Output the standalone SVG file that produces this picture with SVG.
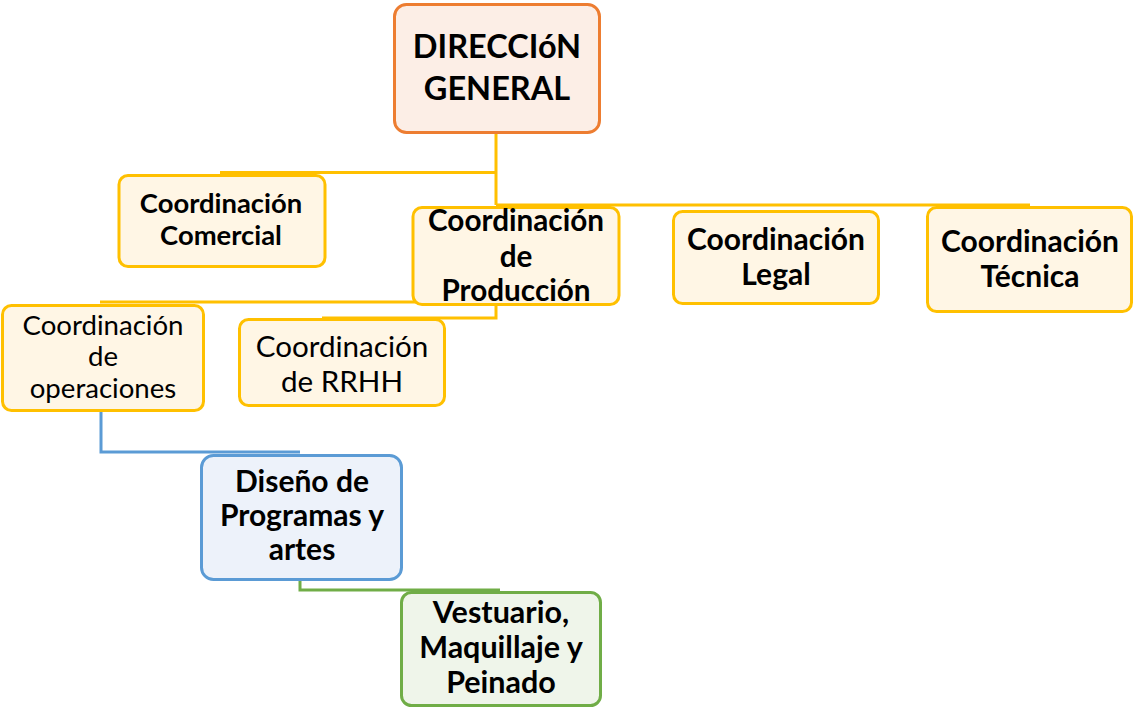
<svg xmlns="http://www.w3.org/2000/svg" width="1133" height="708" viewBox="0 0 1133 708">
<style>
.t{font-family:Lato,"Open Sans","Liberation Sans",sans-serif;fill:#000;text-anchor:middle}
.b{font-weight:bold}
.y{fill:#FFF6E5;stroke:#FFC000;stroke-width:3}
.c{fill:none;stroke-width:3}
</style>
<rect width="1133" height="708" fill="#fff"/>
<g id="connectors">
<path class="c" stroke="#FFC000" d="M496,133V205M220,172.5H496M496,205H1030M100,302H496V318H322"/>
<path class="c" stroke="#5B9BD5" d="M101,411V452H300"/>
<path class="c" stroke="#70AD47" d="M300,580V590H500"/>
</g>
<g id="direccion">
<rect x="394.5" y="4.5" width="205" height="128" rx="12" fill="#FCEEE6" stroke="#ED7D31" stroke-width="3"/>
<text class="t b" x="497" y="58" font-size="32.5">DIRECCIóN</text>
<text class="t b" x="497" y="100" font-size="32.5">GENERAL</text>
</g>
<g id="comercial">
<rect class="y" x="119" y="175.5" width="206" height="91" rx="9"/>
<text class="t b" x="221" y="213" font-size="27.4">Coordinación</text>
<text class="t b" x="221" y="245" font-size="27.4">Comercial</text>
</g>
<g id="produccion">
<rect class="y" x="413" y="207.5" width="206" height="97" rx="9"/>
<text class="t b" x="516" y="231" font-size="29.7">Coordinación</text>
<text class="t b" x="516" y="267" font-size="29.7">de</text>
<text class="t b" x="516" y="301" font-size="29.7">Producción</text>
</g>
<g id="legal">
<rect class="y" x="673.5" y="211.5" width="205" height="92" rx="9"/>
<text class="t b" x="776" y="250" font-size="30">Coordinación</text>
<text class="t b" x="776" y="285" font-size="30">Legal</text>
</g>
<g id="tecnica">
<rect class="y" x="927.5" y="207.5" width="204" height="104" rx="9"/>
<text class="t b" x="1030" y="252" font-size="30">Coordinación</text>
<text class="t b" x="1030" y="287" font-size="30">Técnica</text>
</g>
<g id="operaciones">
<rect class="y" x="2.5" y="305.5" width="201" height="105" rx="9"/>
<text class="t" x="103" y="335" font-size="27.6">Coordinación</text>
<text class="t" x="103" y="366" font-size="27.6">de</text>
<text class="t" x="103" y="398" font-size="27.6">operaciones</text>
</g>
<g id="rrhh">
<rect class="y" x="239.5" y="319.5" width="205" height="86" rx="9"/>
<text class="t" x="342" y="357" font-size="29.6">Coordinación</text>
<text class="t" x="342" y="392" font-size="29.6">de RRHH</text>
</g>
<g id="diseno">
<rect x="201.5" y="455.5" width="200" height="124" rx="12" fill="#EDF2FA" stroke="#5B9BD5" stroke-width="3"/>
<text class="t b" x="302" y="492" font-size="30">Diseño de</text>
<text class="t b" x="302" y="526" font-size="30">Programas y</text>
<text class="t b" x="302" y="560" font-size="30">artes</text>
</g>
<g id="vestuario">
<rect x="401.5" y="592.5" width="199" height="113" rx="10" fill="#EFF5EA" stroke="#70AD47" stroke-width="3"/>
<text class="t b" x="501" y="623" font-size="30.5">Vestuario,</text>
<text class="t b" x="501" y="658" font-size="30.5">Maquillaje y</text>
<text class="t b" x="501" y="693" font-size="30.5">Peinado</text>
</g>
</svg>
